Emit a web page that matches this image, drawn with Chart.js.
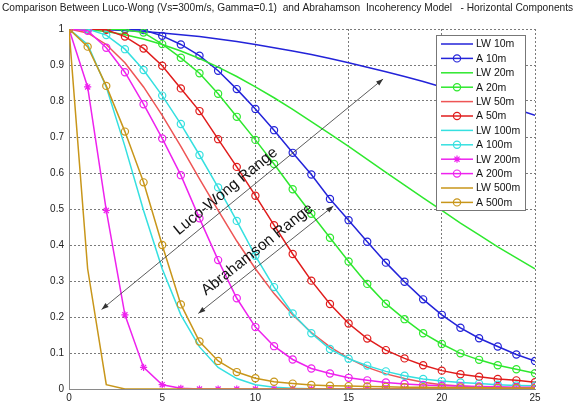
<!DOCTYPE html>
<html>
<head>
<meta charset="utf-8">
<script src="https://cdn.jsdelivr.net/npm/chart.js@4/dist/chart.umd.min.js"></script>
<style>
  html, body { margin: 0; padding: 0; background: #fff; }
  #wrap { width: 580px; height: 412px; }
</style>
</head>
<body>
<div id="wrap"><canvas id="coh" width="580" height="412"></canvas></div>
<script>
// --- data ---
const freqs = [0,1,2,3,4,5,6,7,8,9,10,11,12,13,14,15,16,17,18,19,20,21,22,23,24,25];

const lw10  = [1,1.0,0.998,0.996,0.993,0.989,0.984,0.979,0.972,0.965,0.957,0.948,0.939,0.929,0.918,0.906,0.894,0.881,0.868,0.854,0.839,0.824,0.809,0.793,0.777,0.760];
const a10   = [1,1,1,1,0.997,0.981,0.957,0.926,0.884,0.833,0.778,0.719,0.656,0.596,0.528,0.469,0.409,0.351,0.298,0.249,0.206,0.170,0.141,0.118,0.096,0.078];
const lw20  = [1,0.998,0.993,0.984,0.972,0.957,0.939,0.918,0.894,0.868,0.839,0.809,0.777,0.743,0.709,0.674,0.638,0.602,0.566,0.531,0.496,0.461,0.428,0.395,0.364,0.334];
const a20   = [1,1,1,0.998,0.990,0.958,0.920,0.877,0.820,0.756,0.692,0.625,0.555,0.487,0.420,0.354,0.292,0.237,0.194,0.155,0.125,0.099,0.081,0.066,0.055,0.044];
const lw50  = [1,0.989,0.957,0.906,0.839,0.760,0.674,0.584,0.496,0.411,0.334,0.265,0.206,0.157,0.117,0.085,0.060,0.042,0.029,0.019,0.012,0.008,0.005,0.003,0.002,0.001];
const a50   = [1,1,0.998,0.979,0.946,0.898,0.835,0.772,0.694,0.617,0.537,0.455,0.375,0.301,0.236,0.182,0.140,0.108,0.085,0.066,0.051,0.041,0.034,0.028,0.024,0.019];
const lw100 = [1,0.957,0.839,0.674,0.496,0.334,0.206,0.117,0.060,0.029,0.012,0.005,0.002,0.001,0,0,0,0,0,0,0,0,0,0,0,0];
const a100  = [1,1,0.983,0.944,0.886,0.815,0.736,0.650,0.560,0.467,0.370,0.283,0.210,0.155,0.111,0.084,0.065,0.049,0.037,0.028,0.022,0.018,0.015,0.012,0.010,0.009];
const lw200 = [1,0.839,0.496,0.206,0.060,0.012,0.002,0,0,0,0,0,0,0,0,0,0,0,0,0,0,0,0,0,0,0];
const a200  = [1,0.995,0.948,0.880,0.791,0.696,0.594,0.474,0.358,0.252,0.172,0.119,0.082,0.057,0.043,0.031,0.024,0.018,0.014,0.011,0.009,0.008,0.007,0.006,0.005,0.005];
const lw500 = [1,0.334,0.012,0,0,0,0,0,0,0,0,0,0,0,0,0,0,0,0,0,0,0,0,0,0,0];
const a500  = [1,0.951,0.842,0.715,0.574,0.400,0.235,0.132,0.078,0.047,0.030,0.020,0.015,0.011,0.009,0.008,0.007,0.006,0.005,0.005,0.004,0.004,0.004,0.003,0.003,0.003];

const seriesNames = ['LW 10m','A 10m','LW 20m','A 20m','LW 50m','A 50m','LW 100m','A 100m','LW 200m','A 200m','LW 500m','A 500m'];
const seriesData  = [lw10, a10, lw20, a20, lw50, a50, lw100, a100, lw200, a200, lw500, a500];

// annotation arrows, in data units: [x1, y1, x2, y2]
const lwArrow  = [1.75, 0.221, 16.85, 0.861];
const abArrow  = [6.94, 0.210, 14.18, 0.508];
// label baseline centres, in data units
const lwLabel  = { text: 'Luco-Wong Range', x: 8.56, y: 0.540 };
const abLabel  = { text: 'Abrahamson Range', x: 10.25, y: 0.378 };

const titleText = 'Comparison Between Luco-Wong (Vs=300m/s, Gamma=0.1)  and Abrahamson  Incoherency Model   - Horizontal Components';

// --- styles ---
const colors  = ['#2323d9','#2323d9','#2ee82e','#2ee82e','#ee5555','#e01c1c','#35e0e0','#35e0e0','#ee22ee','#ee22ee','#c8961a','#c8961a'];
const markers = [false,'circle',false,'circle',false,'circle',false,'circle','star','circle',false,'circle'];
const FONT = '"Liberation Sans", Arial, sans-serif';

const datasets = seriesNames.map((name, i) => ({
  label: name,
  data: freqs.map((f, j) => ({ x: f, y: seriesData[i][j] })),
  borderColor: colors[i],
  backgroundColor: colors[i],
  borderWidth: 1.5,
  tension: 0,
  pointStyle: markers[i] || 'circle',
  pointRadius: markers[i] ? 3.6 : 0,
  pointBorderWidth: 1.2,
  pointBackgroundColor: markers[i] === 'star' ? colors[i] : 'rgba(0,0,0,0)',
  pointBorderColor: colors[i],
  order: seriesNames.length - i
}));

function drawArrowHead(ctx, x, y, ang) {
  const len = 7, w = 2.5;
  ctx.beginPath();
  ctx.moveTo(x, y);
  ctx.lineTo(x - len * Math.cos(ang) + w * Math.sin(ang), y - len * Math.sin(ang) - w * Math.cos(ang));
  ctx.lineTo(x - len * Math.cos(ang) - w * Math.sin(ang), y - len * Math.sin(ang) + w * Math.cos(ang));
  ctx.closePath();
  ctx.fill();
}

const extras = {
  id: 'extras',
  afterDatasetsDraw(chart) {
    const ctx = chart.ctx;
    const xs = chart.scales.x, ys = chart.scales.y;

    // arrows + rotated labels
    [[lwArrow, lwLabel], [abArrow, abLabel]].forEach(([a, lab]) => {
      const x1 = xs.getPixelForValue(a[0]), y1 = ys.getPixelForValue(a[1]);
      const x2 = xs.getPixelForValue(a[2]), y2 = ys.getPixelForValue(a[3]);
      const ang = Math.atan2(y2 - y1, x2 - x1);
      ctx.save();
      ctx.strokeStyle = '#333';
      ctx.fillStyle = '#333';
      ctx.lineWidth = 0.8;
      ctx.beginPath();
      ctx.moveTo(x1, y1);
      ctx.lineTo(x2, y2);
      ctx.stroke();
      drawArrowHead(ctx, x2, y2, ang);
      drawArrowHead(ctx, x1, y1, ang + Math.PI);
      ctx.translate(xs.getPixelForValue(lab.x), ys.getPixelForValue(lab.y));
      ctx.rotate(ang);
      ctx.fillStyle = '#111';
      ctx.font = '15.5px ' + FONT;
      ctx.textAlign = 'center';
      ctx.textBaseline = 'alphabetic';
      ctx.fillText(lab.text, 0, 0);
      ctx.restore();
    });

    // legend box
    const bx = 436, by = 35, bw = 89, bh = 175, rowH = 14.4;
    ctx.save();
    ctx.fillStyle = '#fff';
    ctx.fillRect(bx, by, bw, bh);
    ctx.strokeStyle = '#777';
    ctx.lineWidth = 1;
    ctx.strokeRect(bx + 0.5, by + 0.5, bw, bh);
    chart.data.datasets.forEach((ds, i) => {
      const cy = by + 9 + i * rowH;
      ctx.strokeStyle = ds.borderColor;
      ctx.fillStyle = ds.borderColor;
      ctx.lineWidth = 1.5;
      ctx.beginPath();
      ctx.moveTo(bx + 5, cy);
      ctx.lineTo(bx + 37, cy);
      ctx.stroke();
      if (markers[i] === 'circle') {
        ctx.lineWidth = 1.2;
        ctx.beginPath();
        ctx.arc(bx + 21, cy, 3.6, 0, Math.PI * 2);
        ctx.stroke();
      } else if (markers[i] === 'star') {
        ctx.lineWidth = 1.2;
        Chart.helpers.drawPoint(ctx, { pointStyle: 'star', radius: 3.6, borderWidth: 1.2 }, bx + 21, cy);
      }
      ctx.fillStyle = '#111';
      ctx.font = '10.5px ' + FONT;
      ctx.textAlign = 'left';
      ctx.textBaseline = 'middle';
      ctx.fillText(ds.label, bx + 40, cy + 0.5);
    });
    ctx.restore();

    // title
    ctx.save();
    ctx.fillStyle = '#222';
    ctx.font = '10.2px ' + FONT;
    ctx.textAlign = 'left';
    ctx.textBaseline = 'middle';
    ctx.fillText(titleText, 2, 8);
    ctx.restore();
  }
};

new Chart(document.getElementById('coh'), {
  type: 'line',
  data: { datasets },
  options: {
    responsive: false,
    animation: false,
    layout: { padding: { left: 0, right: 45, top: 29, bottom: 0 } },
    plugins: { legend: { display: false }, title: { display: false }, tooltip: { enabled: false } },
    scales: {
      x: {
        type: 'linear', min: 0, max: 25,
        ticks: { stepSize: 5, padding: 3, color: '#222', font: { family: FONT, size: 10 } },
        grid: { color: '#7a7a7a', drawTicks: false, lineWidth: 1 },
        border: { color: '#8a8a8a', dash: [2, 2] },
        afterFit: s => { s.height = 23; }
      },
      y: {
        min: 0, max: 1,
        ticks: { stepSize: 0.1, padding: 5, color: '#222', font: { family: FONT, size: 10 },
                 callback: v => +v.toFixed(1) },
        grid: { color: '#7a7a7a', drawTicks: false, lineWidth: 1 },
        border: { color: '#8a8a8a', dash: [2, 2] },
        afterFit: s => { s.width = 69; }
      }
    }
  },
  plugins: [extras]
});
</script>
</body>
</html>
